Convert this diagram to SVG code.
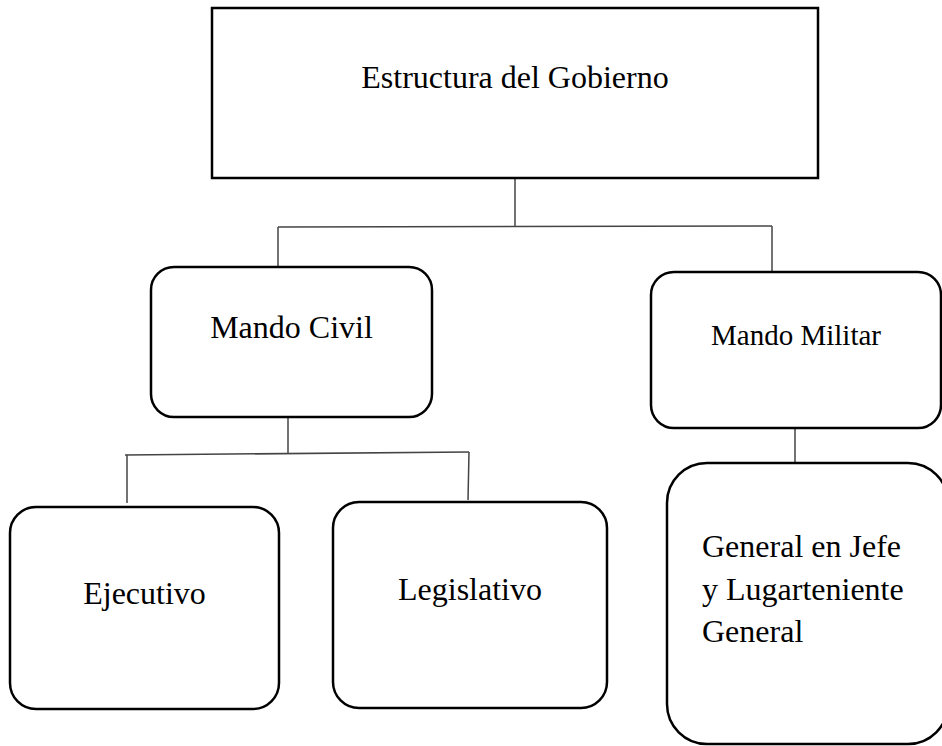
<svg xmlns="http://www.w3.org/2000/svg" width="942" height="746" viewBox="0 0 942 746">
<style>
.box{fill:#fff;stroke:#000;stroke-width:2.5}
.lbl{font-family:"Liberation Serif","Times New Roman",serif;font-size:32px;fill:#000}
.mid{text-anchor:middle}
.conn line{stroke:#444;stroke-width:1.5}
</style>
<rect width="942" height="746" fill="#fff"/>
<g class="conn" id="connectors">
<line x1="515" y1="178" x2="515" y2="227"/>
<line x1="278" y1="227" x2="772" y2="226"/>
<line x1="278" y1="227" x2="278" y2="267"/>
<line x1="772" y1="226" x2="772" y2="272"/>
<line x1="288" y1="417" x2="288" y2="454"/>
<line x1="125" y1="455" x2="469" y2="452"/>
<line x1="127" y1="455" x2="127" y2="503"/>
<line x1="469" y1="452" x2="468" y2="500"/>
<line x1="795" y1="428" x2="795" y2="463"/>
</g>
<g id="gobierno">
<rect class="box" x="212" y="8" width="606" height="170"/>
<text class="lbl mid" x="515" y="88">Estructura del Gobierno</text>
</g>
<g id="mando-civil">
<rect class="box" x="151" y="267" width="281" height="150" rx="23"/>
<text class="lbl mid" x="291.5" y="338">Mando Civil</text>
</g>
<g id="mando-militar">
<rect class="box" x="651" y="272" width="290" height="156" rx="23"/>
<text class="lbl mid" x="796" y="345" style="font-size:29px">Mando Militar</text>
</g>
<g id="ejecutivo">
<rect class="box" x="10" y="507" width="269" height="202" rx="26"/>
<text class="lbl mid" x="144.5" y="604">Ejecutivo</text>
</g>
<g id="legislativo">
<rect class="box" x="333" y="502" width="274" height="206" rx="26"/>
<text class="lbl mid" x="470" y="600">Legislativo</text>
</g>
<g id="general">
<rect class="box" x="667" y="463" width="281" height="281" rx="40"/>
<text class="lbl" x="702" y="557">General en Jefe</text>
<text class="lbl" x="702" y="600">y Lugarteniente</text>
<text class="lbl" x="702" y="642">General</text>
</g>
</svg>
